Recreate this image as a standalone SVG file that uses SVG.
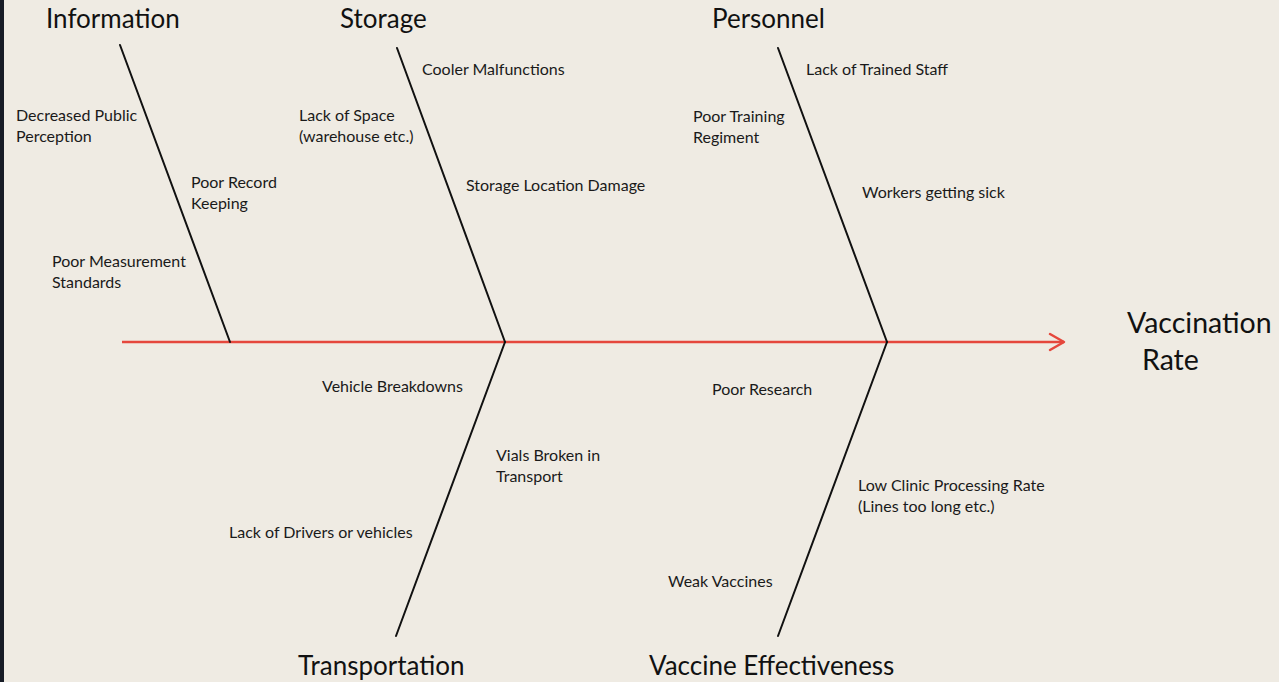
<svg xmlns="http://www.w3.org/2000/svg" width="1279" height="682" viewBox="0 0 1279 682">
  <style>
    .bone { stroke: #111; stroke-width: 2; stroke-linecap: round; fill: none; }
    .spine { stroke: #e5473c; stroke-width: 2.5; fill: none; }
    .head { font-family: Lato, "Open Sans", sans-serif; font-size: 26px; fill: #111; }
    .result { font-family: Lato, "Open Sans", sans-serif; font-size: 28.5px; fill: #111; }
    .cause { font-family: Lato, "Open Sans", sans-serif; font-size: 16px; fill: #1a1a1a; }
  </style>

  <rect width="1279" height="682" fill="#efebe3"/>
  <rect width="4" height="682" fill="#171c26"/>

  <!-- spine and category bones -->
  <g id="connectors">
    <line class="spine" x1="122" y1="342" x2="1064" y2="342"/>
    <path d="M1050,334 L1064,342 L1050,350" fill="none" stroke="#e5473c" stroke-width="2.5" stroke-linejoin="round" stroke-linecap="round"/>
    <line class="bone" x1="120" y1="45" x2="230" y2="342"/>
    <line class="bone" x1="397" y1="48" x2="505" y2="342"/>
    <line class="bone" x1="778" y1="48" x2="887" y2="342"/>
    <line class="bone" x1="505" y1="342" x2="396" y2="636"/>
    <line class="bone" x1="887" y1="342" x2="778" y2="636"/>
  </g>

  <g id="information">
    <text class="head" x="46" y="28">Information</text>
    <text class="cause" x="16" y="121">Decreased Public</text>
    <text class="cause" x="16" y="142">Perception</text>
    <text class="cause" x="191" y="188">Poor Record</text>
    <text class="cause" x="191" y="209">Keeping</text>
    <text class="cause" x="52" y="267">Poor Measurement</text>
    <text class="cause" x="52" y="288">Standards</text>
  </g>

  <g id="storage">
    <text class="head" x="340" y="28">Storage</text>
    <text class="cause" x="422" y="75">Cooler Malfunctions</text>
    <text class="cause" x="299" y="121">Lack of Space</text>
    <text class="cause" x="299" y="142">(warehouse etc.)</text>
    <text class="cause" x="466" y="191">Storage Location Damage</text>
  </g>

  <g id="personnel">
    <text class="head" x="712" y="28">Personnel</text>
    <text class="cause" x="806" y="75">Lack of Trained Staff</text>
    <text class="cause" x="693" y="122">Poor Training</text>
    <text class="cause" x="693" y="143">Regiment</text>
    <text class="cause" x="862" y="198">Workers getting sick</text>
  </g>

  <g id="transportation">
    <text class="head" x="298" y="675">Transportation</text>
    <text class="cause" x="322" y="392">Vehicle Breakdowns</text>
    <text class="cause" x="496" y="461">Vials Broken in</text>
    <text class="cause" x="496" y="482">Transport</text>
    <text class="cause" x="229" y="538">Lack of Drivers or vehicles</text>
  </g>

  <g id="vaccine-effectiveness">
    <text class="head" x="649" y="675">Vaccine Effectiveness</text>
    <text class="cause" x="712" y="395">Poor Research</text>
    <text class="cause" x="858" y="491">Low Clinic Processing Rate</text>
    <text class="cause" x="858" y="512">(Lines too long etc.)</text>
    <text class="cause" x="668" y="587">Weak Vaccines</text>
  </g>

  <g id="vaccination-rate">
    <text class="result" x="1127" y="333">Vaccination</text>
    <text class="result" x="1142" y="370">Rate</text>
  </g>
</svg>
